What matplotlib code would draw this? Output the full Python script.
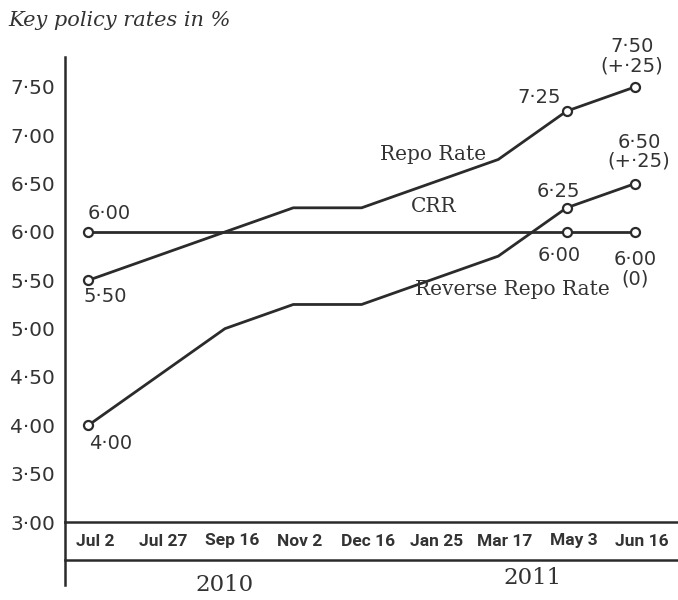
import matplotlib.pyplot as plt
from matplotlib.lines import Line2D

# Policy rate announcements, 2010-11
dates = ["Jul 2", "Jul 27", "Sep 16", "Nov 2", "Dec 16",
         "Jan 25", "Mar 17", "May 3", "Jun 16"]
repo = [5.50, 5.75, 6.00, 6.25, 6.25, 6.50, 6.75, 7.25, 7.50]
reverse_repo = [4.00, 4.50, 5.00, 5.25, 5.25, 5.50, 5.75, 6.25, 6.50]
crr = [6.00, 6.00, 6.00, 6.00, 6.00, 6.00, 6.00, 6.00, 6.00]
yticks = [3.00, 3.50, 4.00, 4.50, 5.00, 5.50, 6.00, 6.50, 7.00, 7.50]
marked = [0, 7, 8]  # points that carry a hollow marker


def fmt(v):
    # newspaper style decimal point
    return f"{v:.2f}".replace(".", "\u00b7")


W, H = 678, 600
INK = "#2b2b2b"
TXT = "#333333"
SERIF = "DejaVu Serif"
NARROW = ["Roboto", "Liberation Sans", "DejaVu Sans"]

fig = plt.figure(figsize=(W / 100, H / 100), dpi=100)
fig.patch.set_facecolor("white")

left, right = 65, 678
top, base, band_bot = 57, 522, 560
ax = fig.add_axes([left / W, (H - base) / H, (right - left) / W, (base - top) / H])
ax.set_facecolor("none")

x = list(range(len(dates)))
for series in (crr, repo, reverse_repo):
    ax.plot(x, series, color=INK, lw=2.0, solid_capstyle="round", zorder=2)
    ax.plot([x[i] for i in marked], [series[i] for i in marked], "o",
            ms=6.5, mfc="white", mec=INK, mew=1.6, zorder=3)

ax.set_xlim(-0.34, 8.63)
ax.set_ylim(3.0, 7.81)
ax.set_yticks(yticks)
ax.set_yticklabels([fmt(v) for v in yticks], fontsize=14.5, color=TXT,
                   family="DejaVu Sans")
ax.tick_params(axis="y", length=0, pad=7)
ax.set_xticks([])
for side in ("top", "right", "bottom"):
    ax.spines[side].set_visible(False)
ax.spines["left"].set_color(INK)
ax.spines["left"].set_linewidth(1.8)


def label(text, xi, yv, dx, dy, ha="center", size=14, family="DejaVu Sans"):
    ax.annotate(text, (xi, yv), xytext=(dx, dy), textcoords="offset points",
                ha=ha, va="center", fontsize=size, color=TXT,
                family=family, linespacing=1.0)


# value labels next to the marked points
label(fmt(crr[0]), 0, crr[0], 15, 13)
label(fmt(repo[0]), 0, repo[0], 12, -12)
label(fmt(reverse_repo[0]), 0, reverse_repo[0], 16, -13)
label(fmt(repo[7]), 7, repo[7], -20, 10)
label(fmt(repo[8]) + "\n(+\u00b725)", 8, repo[8], -2, 22)
label(fmt(reverse_repo[7]), 7, reverse_repo[7], -6, 12)
label(fmt(reverse_repo[8]) + "\n(+\u00b725)", 8, reverse_repo[8], 3, 23)
label(fmt(crr[7]), 7, crr[7], -5, -17)
label(fmt(crr[8]) + "\n(0)", 8, crr[8], 0, -27)

# series names
label("Repo Rate", 5.05, 6.80, 0, 0, size=14.5, family=SERIF)
label("CRR", 5.05, 6.00, 0, 18, size=14.5, family=SERIF)
label("Reverse Repo Rate", 6.2, 5.40, 0, 0, size=14.5, family=SERIF)

# date band under the plot
band = fig.add_axes([left / W, (H - band_bot) / H, (right - left) / W,
                     (band_bot - base) / H])
band.set_xlim(ax.get_xlim())
band.set_ylim(0, 1)
band.set_xticks([])
band.set_yticks([])
band.set_facecolor("none")
for side in ("left", "right"):
    band.spines[side].set_visible(False)
for side in ("top", "bottom"):
    band.spines[side].set_color(INK)
    band.spines[side].set_linewidth(1.8)
for xi, d in zip(x, dates):
    band.text(xi + 0.1, 0.5, d, ha="center", va="center", fontsize=12.5,
              fontweight="bold", color=TXT, family=NARROW)

# years below the band
band.text(2.0, -0.65, "2010", ha="center", va="center", fontsize=16.5,
          color=TXT, family=SERIF)
band.text(6.5, -0.48, "2011", ha="center", va="center", fontsize=16.5,
          color=TXT, family=SERIF)

# left axis line carries on past the band
fig.add_artist(Line2D([left / W, left / W], [(H - base) / H, (H - 585) / H],
                      transform=fig.transFigure, color=INK, lw=1.8))

fig.text(8 / W, 1 - 20 / H, "Key policy rates in %", ha="left", va="center",
         fontsize=15, style="italic", color=TXT, family=SERIF)

fig.savefig("out.png", dpi=100)
